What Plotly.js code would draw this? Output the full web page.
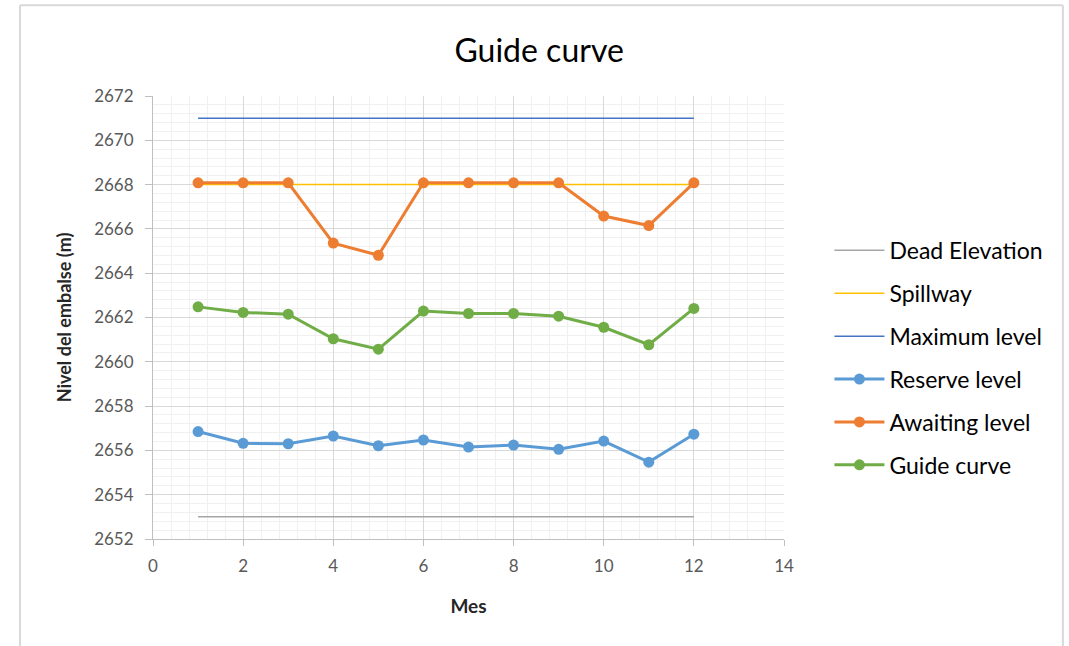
<!DOCTYPE html>
<html>
<head>
<meta charset="utf-8">
<script src="https://cdn.plot.ly/plotly-3.0.1.min.js"></script>
<style>html,body{margin:0;padding:0;background:#fff;}#chart{width:1069px;height:646px;}</style>
</head>
<body>
<div id="chart"></div>
<script>
const months = [1,2,3,4,5,6,7,8,9,10,11,12];
const deadElevation = [2653,2653,2653,2653,2653,2653,2653,2653,2653,2653,2653,2653];
const spillway = [2668,2668,2668,2668,2668,2668,2668,2668,2668,2668,2668,2668];
const maximumLevel = [2671,2671,2671,2671,2671,2671,2671,2671,2671,2671,2671,2671];
const reserveLevel = [2656.85,2656.32,2656.30,2656.65,2656.21,2656.47,2656.15,2656.24,2656.05,2656.42,2655.47,2656.73];
const awaitingLevel = [2668.08,2668.08,2668.08,2665.36,2664.81,2668.08,2668.08,2668.08,2668.08,2666.58,2666.15,2668.08];
const guideCurve = [2662.48,2662.23,2662.15,2661.04,2660.57,2662.29,2662.18,2662.18,2662.06,2661.56,2660.77,2662.41];

const FONT = 'Lato, "Open Sans", sans-serif';

function lineTrace(name, y, color, width, group){
  return {x: months, y: y, name: name, mode: 'lines', type: 'scatter',
    line: {color: color, width: width}, legendgroup: group, hoverinfo: 'skip'};
}
function markerTrace(name, y, color, group){
  return {x: months, y: y, name: name, mode: 'lines+markers', type: 'scatter',
    line: {color: color, width: 3}, marker: {color: color, size: 11},
    legendgroup: group, hoverinfo: 'skip'};
}

const data = [
  lineTrace('Dead Elevation', deadElevation, '#A5A5A5', 1.5, 'g1'),
  lineTrace('Spillway', spillway, '#FFC000', 1.5, 'g2'),
  lineTrace('Maximum level', maximumLevel, '#4472C4', 1.5, 'g3'),
  markerTrace('Reserve level', reserveLevel, '#5B9BD5', 'g4'),
  markerTrace('Awaiting level', awaitingLevel, '#ED7D31', 'g5'),
  markerTrace('Guide curve', guideCurve, '#70AD47', 'g6')
];

const layout = {
  width: 1069, height: 646,
  margin: {l: 153, r: 285, t: 96, b: 107},
  paper_bgcolor: '#ffffff', plot_bgcolor: '#ffffff',
  font: {family: FONT, color: '#595959'},
  showlegend: true,
  title: {text: 'Guide curve', font: {family: FONT, size: 32, color: '#000000'},
          x: 0.612, xanchor: 'center', xref: 'paper', y: 0.922, yanchor: 'middle'},
  xaxis: {
    range: [0, 14], dtick: 2, tick0: 0, showline: true, linecolor: '#BFBFBF', linewidth: 1,
    ticks: 'outside', ticklen: 6, tickcolor: '#BFBFBF', mirror: false, ticklabelstandoff: 6,
    showgrid: true, gridcolor: '#D9D9D9', gridwidth: 1, zeroline: false,
    tickfont: {family: FONT, size: 17, color: '#595959'},
    minor: {dtick: 0.4, tick0: 0, showgrid: true, gridcolor: '#F0F0F0', gridwidth: 1, ticks: ''},
    title: {text: '<b>Mes</b>', font: {family: FONT, size: 19, color: '#262626'}, standoff: 24}
  },
  yaxis: {
    range: [2652, 2672], dtick: 2, tick0: 2652, showline: true, linecolor: '#BFBFBF', linewidth: 1,
    ticks: 'outside', ticklen: 7, tickcolor: '#BFBFBF', ticklabelstandoff: 8,
    showgrid: true, gridcolor: '#D9D9D9', gridwidth: 1, zeroline: false,
    tickfont: {family: FONT, size: 17, color: '#595959'},
    minor: {dtick: 0.4, tick0: 2652, showgrid: true, gridcolor: '#F0F0F0', gridwidth: 1, ticks: ''},
    title: {text: '<b>Nivel del embalse (m)</b>', font: {family: FONT, size: 18, color: '#262626'}, standoff: 17}
  },
  legend: {
    x: 1.072, xanchor: 'left', y: 0.70, yanchor: 'top',
    font: {family: FONT, size: 23, color: '#000000'},
    tracegroupgap: 10, itemwidth: 50, bgcolor: 'rgba(0,0,0,0)',
    traceorder: 'grouped'
  },
  shapes: [
    {type: 'line', xref: 'paper', yref: 'paper', x0: -0.2108, x1: -0.2108, y0: -0.25, y1: 1.205,
     line: {color: '#D9D9D9', width: 2}},
    {type: 'line', xref: 'paper', yref: 'paper', x0: -0.2108, x1: 1.442, y0: 1.205, y1: 1.205,
     line: {color: '#D9D9D9', width: 2}},
    {type: 'line', xref: 'paper', yref: 'paper', x0: 1.442, x1: 1.442, y0: -0.25, y1: 1.205,
     line: {color: '#D9D9D9', width: 2}}
  ]
};

Plotly.newPlot('chart', data, layout, {displayModeBar: false, staticPlot: true});
</script>
</body>
</html>
